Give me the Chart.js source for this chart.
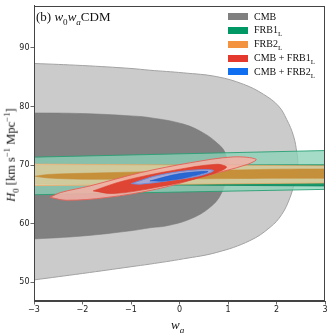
<!DOCTYPE html>
<html>
<head>
<meta charset="utf-8">
<script src="https://cdn.jsdelivr.net/npm/chart.js@4.4.1/dist/chart.umd.min.js"></script>
<style>
  html, body { margin: 0; padding: 0; background: #fff; }
  #wrap { position: relative; width: 332px; height: 334px; overflow: hidden; }
  canvas { position: absolute; left: 0; top: 0; }
  .lbl { position: absolute; font-family: "Liberation Serif", "DejaVu Serif", serif; color: #111; white-space: nowrap; line-height: 1; }
  .lbl sub, .lbl sup { font-size: 70%; line-height: 0; }
  .row { position: absolute; left: 228px; height: 10px; font-family: "Liberation Serif", serif; font-size: 10px; color: #111; white-space: nowrap; line-height: 10px; }
  .row .sw { position: absolute; left: 0; top: 1.5px; width: 20px; height: 7px; }
  .row .tx { position: absolute; left: 26px; top: 0; }
  .row sub { font-size: 70%; line-height: 0; }
</style>
</head>
<body>
<div id="wrap">
  <canvas id="c" width="332" height="334"></canvas>
  <div class="lbl" style="left:36px; top:9.5px; font-size:13px;">(b) <i>w</i><sub>0</sub><i>w</i><sub><i>a</i></sub>CDM</div>
  <div class="lbl" style="left:171px; top:318px; font-size:13px;"><i>w</i><sub><i>a</i></sub></div>
  <div class="lbl" id="ytitle" style="left:10.5px; top:155px; font-size:12.5px; transform: translate(-50%,-50%) rotate(-90deg);"><i>H</i><sub>0</sub> [km s<sup>−1</sup> Mpc<sup>−1</sup>]</div>
  <div id="legend"></div>
</div>
<script>
// ---------------- data ----------------
const xTicks = [-3, -2, -1, 0, 1, 2, 3];
const yTicks = [50, 60, 70, 80, 90];

const legendNames = ['CMB', 'FRB1<sub>L</sub>', 'FRB2<sub>L</sub>', 'CMB + FRB1<sub>L</sub>', 'CMB + FRB2<sub>L</sub>'];
const legendColors = ['#808080', '#009966', '#f3923f', '#e4392c', '#0f6ff0'];

// CMB 2-sigma contour (outer)
const cmb2Wa = [-4.0, -3.0, -2.0, -1.0, -0.61, 0.08, 0.77, 1.32, 1.73, 2.04, 2.21, 2.35, 2.42, 2.44, 2.42, 2.38, 2.28, 2.11, 1.87, 1.45, 0.77, 0.08, -0.61, -1.0, -2.0, -3.0, -4.0, -4.0];
const cmb2H0 = [87.6, 87.35, 87.0, 86.5, 86.2, 85.75, 85.1, 83.8, 82.1, 80.1, 77.8, 75.0, 72.1, 70.3, 68.5, 67.3, 64.5, 61.6, 59.4, 57.1, 55.1, 54.0, 53.1, 52.65, 51.5, 50.4, 49.3, 87.6];
// CMB 1-sigma contour (inner)
const cmb1Wa = [-4.0, -3.0, -2.0, -1.0, -0.61, 0.08, 0.49, 0.77, 0.94, 0.98, 0.87, 0.63, 0.22, -0.26, -0.61, -1.0, -2.0, -3.0, -4.0, -4.0];
const cmb1H0 = [78.9, 78.9, 78.8, 78.4, 78.1, 77.0, 75.5, 73.8, 72.1, 69.0, 65.3, 62.8, 60.8, 59.65, 59.3, 58.8, 57.9, 57.4, 57.0, 78.9];

// FRB1_L bands
const frb1oWa = [-3.6, 3.6, 3.6, -3.6, -3.6];
const frb1oH0 = [71.25, 72.6, 65.95, 64.85, 71.25];
const frb1iWa = [-3.6, 3.6, 3.6, -3.6, -3.6];
const frb1iH0 = [69.95, 70.05, 66.4, 66.8, 69.95];

// FRB2_L contours
const frb2oWa = [-3.6, 3.6, 3.6, -3.6, -3.6];
const frb2oH0 = [70.2, 69.85, 67.0, 66.45, 70.2];
const frb2iWa = [-2.98, -2.7, -2.0, -1.0, 0.0, 1.0, 2.0, 3.0, 3.8, 3.8, 3.0, 2.0, 1.0, 0.0, -1.0, -2.0, -2.7, -2.98];
const frb2iH0 = [68.1, 68.4, 68.6, 68.8, 69.0, 69.15, 69.3, 69.35, 69.4, 67.75, 67.75, 67.75, 67.7, 67.65, 67.6, 67.6, 67.8, 68.1];

// CMB + FRB1_L
const cf1oWa = [-2.67, -2.46, -1.84, -0.81, 0.22, 1.11, 1.58, 1.39, 0.56, -0.47, -1.5, -2.33, -2.67];
const cf1oH0 = [64.5, 65.3, 66.46, 68.7, 70.4, 71.4, 71.0, 70.1, 68.2, 65.9, 64.47, 64.0, 64.5];
const cf1iWa = [-1.78, -1.16, -0.13, 0.77, 0.97, 0.56, -0.47, -1.36, -1.78];
const cf1iH0 = [65.6, 67.3, 69.1, 70.15, 69.6, 68.2, 66.2, 65.15, 65.6];

// CMB + FRB2_L
const cf2oWa = [-0.99, -0.47, 0.22, 0.70, 0.42, -0.26, -0.81, -0.99];
const cf2oH0 = [66.85, 68.2, 69.1, 69.1, 68.2, 67.3, 66.75, 66.85];
const cf2iWa = [-0.61, 0.01, 0.59, 0.15, -0.33, -0.61];
const cf2iH0 = [67.3, 68.55, 68.9, 67.9, 67.3, 67.3];

// ---------------- build ----------------
function pts(wa, h) { return wa.map((v, i) => ({ x: v, y: h[i] })); }

function contour(label, wa, h, fillColor, edgeColor, tension, width) {
  return {
    label, data: pts(wa, h), showLine: true, fill: 'shape',
    backgroundColor: fillColor, borderColor: edgeColor, borderWidth: width,
    pointRadius: 0, pointHoverRadius: 0, tension: tension
  };
}

const datasets = [
  contour('CMB 2σ', cmb2Wa, cmb2H0, '#cbcbcb', '#a3a3a3', 0.4, 1),
  contour('CMB 1σ', cmb1Wa, cmb1H0, '#808080', '#7a7a7a', 0.4, 0.6),
  contour('FRB1 2σ', frb1oWa, frb1oH0, 'rgba(140,210,184,0.78)', 'rgba(40,160,115,0.9)', 0, 1),
  contour('FRB1 1σ', frb1iWa, frb1iH0, 'rgba(0,140,90,0.85)', 'rgba(0,130,85,0.9)', 0, 0.8),
  contour('FRB2 2σ', frb2oWa, frb2oH0, 'rgba(250,214,170,0.82)', 'rgba(240,170,100,0.9)', 0, 0.8),
  contour('FRB2 1σ', frb2iWa, frb2iH0, 'rgba(196,136,46,0.88)', 'rgba(200,140,50,0.9)', 0.35, 0.6),
  contour('CMB+FRB1 2σ', cf1oWa, cf1oH0, 'rgba(244,176,166,0.88)', 'rgba(228,100,90,0.95)', 0.35, 1),
  contour('CMB+FRB1 1σ', cf1iWa, cf1iH0, 'rgba(222,60,42,0.92)', 'rgba(215,55,40,0.95)', 0.35, 0.6),
  contour('CMB+FRB2 2σ', cf2oWa, cf2oH0, 'rgba(158,178,228,0.92)', 'rgba(110,140,220,0.95)', 0.35, 1),
  contour('CMB+FRB2 1σ', cf2iWa, cf2iH0, 'rgba(34,98,210,0.95)', 'rgba(30,90,200,0.95)', 0.35, 0.6)
];
// first entry drawn at the bottom
datasets.forEach((d, i) => { d.order = datasets.length - i; });

const framePlugin = {
  id: 'frame',
  afterDatasetsDraw(chart) {
    const a = chart.chartArea, ctx = chart.ctx;
    ctx.save();
    ctx.strokeStyle = '#444';
    ctx.lineWidth = 1;
    ctx.strokeRect(Math.round(a.left) + 0.5, Math.round(a.top) + 0.5, Math.round(a.right - a.left) - 1, Math.round(a.bottom - a.top) - 1);
    ctx.restore();
  }
};

const tickFont = { family: 'DejaVu Sans', size: 8 };
new Chart(document.getElementById('c'), {
  type: 'scatter',
  data: { datasets },
  options: {
    responsive: false, animation: false, devicePixelRatio: 1,
    layout: { padding: { left: 0, right: 7, top: 5, bottom: 0 } },
    elements: { line: { capBezierPoints: false } },
    plugins: { legend: { display: false }, tooltip: { enabled: false } },
    scales: {
      x: {
        type: 'linear', min: -3, max: 3,
        afterBuildTicks: s => { s.ticks = xTicks.map(v => ({ value: v })); },
        afterFit: s => { s.height = 33; },
        ticks: { font: tickFont, color: '#222', padding: 1, maxRotation: 0,
                 callback: v => (v < 0 ? '\u2212' + Math.abs(v) : String(v)) },
        grid: { drawOnChartArea: false, drawTicks: true, tickLength: 3.5, color: '#444', tickWidth: 0.8 },
        border: { display: true, color: '#444', width: 1 }
      },
      y: {
        type: 'linear', min: 46.8, max: 97.2,
        afterBuildTicks: s => { s.ticks = yTicks.map(v => ({ value: v })); },
        afterFit: s => { s.width = 34; },
        ticks: { font: tickFont, color: '#222', padding: 1 },
        grid: { drawOnChartArea: false, drawTicks: true, tickLength: 3.5, color: '#444', tickWidth: 0.8 },
        border: { display: true, color: '#444', width: 1 }
      }
    }
  },
  plugins: [framePlugin]
});

// legend (HTML text)
const lg = document.getElementById('legend');
legendNames.forEach((n, i) => {
  const r = document.createElement('div');
  r.className = 'row';
  r.style.top = (11.5 + i * 13.85) + 'px';
  r.innerHTML = '<span class="sw" style="background:' + legendColors[i] + '"></span><span class="tx">' + n + '</span>';
  lg.appendChild(r);
});
</script>
</body>
</html>
